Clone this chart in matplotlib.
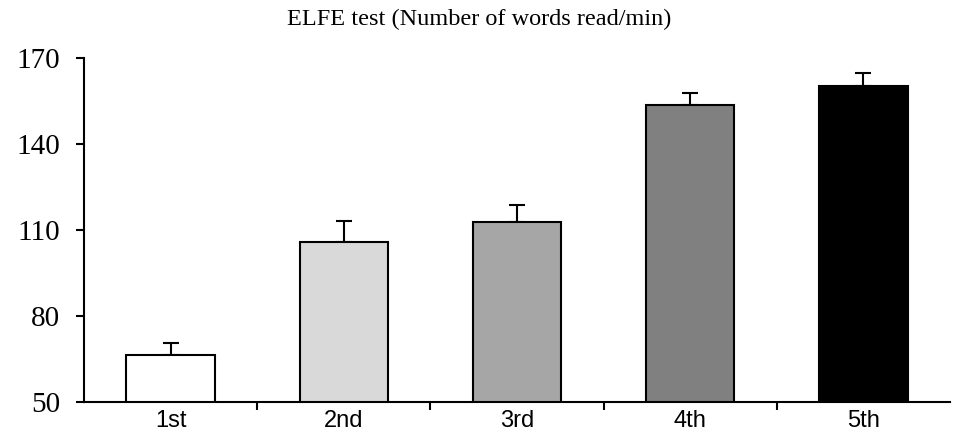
import matplotlib.pyplot as plt
import numpy as np

# data
grades = ['1st', '2nd', '3rd', '4th', '5th']
words_per_min = [66.3, 106.0, 112.8, 153.5, 160.2]
err_upper = [4.3, 7.0, 6.0, 4.3, 4.6]
bar_colors = ['#ffffff', '#d9d9d9', '#a6a6a6', '#808080', '#000000']

fig = plt.figure(figsize=(9.58, 4.42), dpi=100)
ax = fig.add_axes([0.0877, 0.0905, 0.904, 0.778])

x = np.arange(len(grades))
ax.bar(x, words_per_min, width=0.51, color=bar_colors, edgecolor='black',
       linewidth=1.5, zorder=2)
ax.errorbar(x, words_per_min, yerr=[np.zeros(len(x)), err_upper], fmt='none',
            ecolor='black', elinewidth=1.5, capsize=6, capthick=1.5, zorder=1)

ax.set_xlim(-0.5, len(grades) - 0.5)
ax.set_ylim(50, 170)
ax.set_yticks([50, 80, 110, 140, 170])
for lab in ax.get_yticklabels():
    lab.set_fontfamily('Liberation Serif')
    lab.set_fontsize(21)

ax.set_xticks(x)
ax.set_xticklabels(grades, fontfamily='Liberation Sans', fontsize=17)
ax.tick_params(axis='x', which='major', length=0, pad=6)
ax.set_xticks(np.arange(0.5, len(grades) - 0.5, 1), minor=True)
ax.tick_params(axis='x', which='minor', length=6, width=1.5, direction='out')
ax.tick_params(axis='y', length=6, width=1.5, direction='out', pad=11)

for side in ['top', 'right']:
    ax.spines[side].set_visible(False)
for side in ['left', 'bottom']:
    ax.spines[side].set_linewidth(1.5)

fig.text(0.5, 0.955, 'ELFE test (Number of words read/min)', ha='center',
         va='center', fontfamily='Liberation Serif', fontsize=17.5)

plt.savefig('out.png', dpi=100)
plt.close()
